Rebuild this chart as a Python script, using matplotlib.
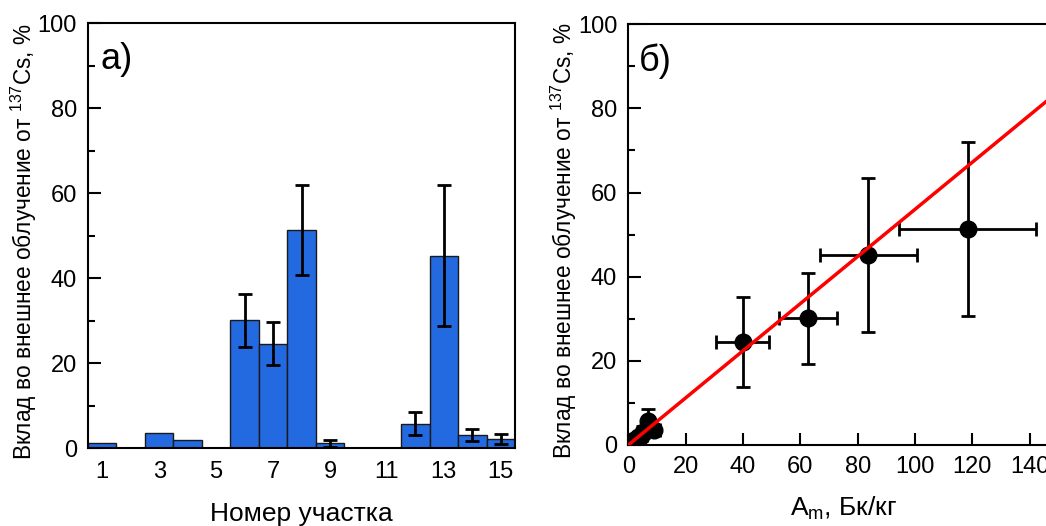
import matplotlib.pyplot as plt
import numpy as np

plt.rcParams['font.family'] = ['Liberation Sans', 'DejaVu Sans']
plt.rcParams['mathtext.fontset'] = 'custom'
plt.rcParams['mathtext.rm'] = 'Liberation Sans'
plt.rcParams['mathtext.it'] = 'Liberation Sans'

# а) вклад по участкам
sites = np.arange(1, 16)
share = [1.3, 0, 3.5, 1.9, 0, 30.1, 24.6, 51.4, 1.1, 0, 0, 5.8, 45.3, 3.0, 2.2]
share_err = [0, 0, 0, 0, 0, 6.2, 5.0, 10.6, 0.8, 0, 0, 2.7, 16.5, 1.4, 1.2]
xticks_a = [1, 3, 5, 7, 9, 11, 13, 15]

# б) зависимость от удельной активности
am = [2, 3, 3.5, 4.5, 5, 9, 7, 39.9, 62.8, 83.7, 118.4]
am_err = [0.5, 0.5, 0.5, 0.8, 0.8, 2.0, 1.0, 9.2, 10.1, 17.0, 23.9]
contrib = [1.1, 1.3, 1.9, 2.2, 3.0, 3.5, 5.8, 24.5, 30.1, 45.1, 51.3]
contrib_err = [0.8, 0.5, 0.5, 1.2, 1.4, 1.0, 2.7, 10.7, 10.8, 18.3, 20.7]
slope = 0.56
fit_x = [0, 150]

ylab = r'Вклад во внешнее облучение от $^{137}$Cs, %'

fig = plt.figure(figsize=(10.46, 5.26), dpi=100)

ax1 = fig.add_axes([0.0841, 0.148, 0.4083, 0.808])
ax1.bar(sites, share, width=1.0, color='#2369e0', edgecolor='#1a1a1a', linewidth=1)
mask = np.array(share_err) > 0
ax1.errorbar(sites[mask], np.array(share)[mask], yerr=np.array(share_err)[mask],
             fmt='none', ecolor='black', elinewidth=2, capsize=5, capthick=2)
ax1.set_xlim(0.5, 15.5)
ax1.set_ylim(0, 100)
ax1.set_xticks(xticks_a)
ax1.set_yticks(range(0, 101, 20))
ax1.set_yticks(range(10, 100, 20), minor=True)
ax1.tick_params(axis='y', which='major', direction='in', length=9, width=1.5, labelsize=17, pad=8)
ax1.tick_params(axis='y', which='minor', direction='in', length=5, width=1.5)
ax1.tick_params(axis='x', length=0, labelsize=17, pad=9)
ax1.set_xlabel('Номер участка', fontsize=19, labelpad=14)
ax1.set_ylabel(ylab, fontsize=16.3, labelpad=-1)
ax1.yaxis.label.set_y(0.486)
ax1.text(0.03, 0.955, 'а)', transform=ax1.transAxes, fontsize=26, va='top')
for s in ax1.spines.values():
    s.set_linewidth(1.5)

ax2 = fig.add_axes([0.6007, 0.154, 0.4111, 0.800])
ax2.plot(fit_x, [slope * v for v in fit_x], color='#ff0000', linewidth=2.5, zorder=3)
ax2.errorbar(am, contrib, xerr=am_err, yerr=contrib_err, fmt='o', color='black',
             markersize=12, elinewidth=2, capsize=5, capthick=2, zorder=2)
ax2.set_xlim(0, 150)
ax2.set_ylim(0, 100)
ax2.set_xticks(range(0, 141, 20))
ax2.set_yticks(range(0, 101, 20))
ax2.set_yticks(range(10, 100, 20), minor=True)
ax2.tick_params(axis='both', which='major', direction='in', length=9, width=1.5, labelsize=17, pad=8)
ax2.tick_params(axis='y', which='minor', direction='in', length=5, width=1.5)
ax2.set_xlabel(r'A$_{\mathrm{m}}$, Бк/кг', fontsize=19, labelpad=12)
ax2.set_ylabel(ylab, fontsize=16.3, labelpad=-1)
ax2.yaxis.label.set_y(0.486)
ax2.text(0.025, 0.955, 'б)', transform=ax2.transAxes, fontsize=26, va='top')
for s in ax2.spines.values():
    s.set_linewidth(1.5)

fig.savefig('out.png', dpi=100)
